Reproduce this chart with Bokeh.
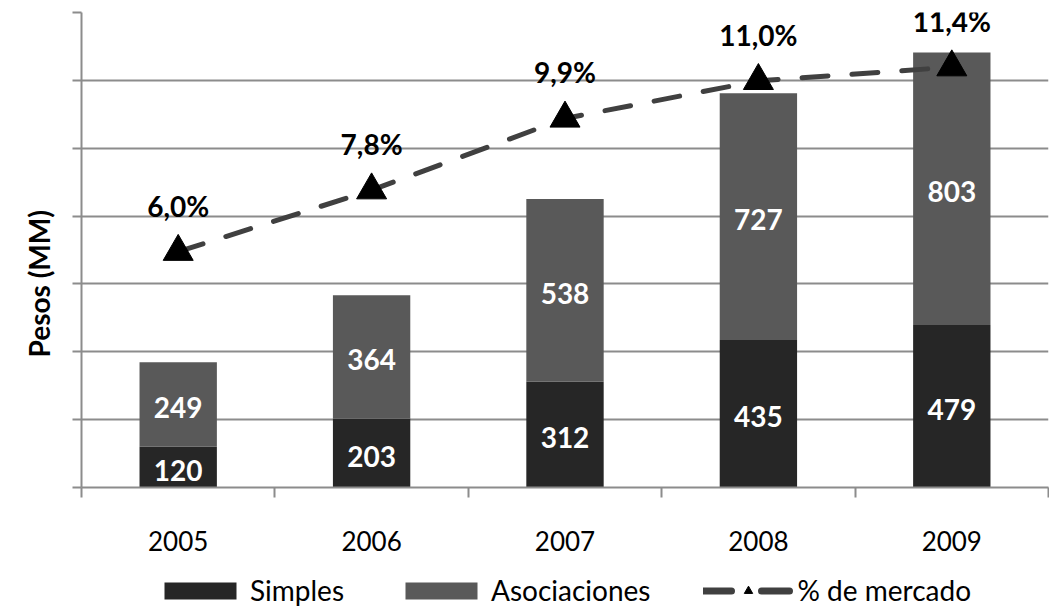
from bokeh.plotting import figure
from bokeh.models import (ColumnDataSource, Range1d, FixedTicker, Legend, LegendItem,
                          CustomJSTickFormatter, Title)
from bokeh.layouts import column
from bokeh.core.properties import value
from bokeh.embed import file_html
from bokeh.resources import INLINE

years = ["2005", "2006", "2007", "2008", "2009"]
simples = [120, 203, 312, 435, 479]
asociaciones = [249, 364, 538, 727, 803]
pct_mercado = [6.0, 7.8, 9.9, 11.0, 11.4]
pct_labels = ["6,0%", "7,8%", "9,9%", "11,0%", "11,4%"]
series_names = ["Simples", "Asociaciones", "% de mercado"]
y_title = "Pesos (MM)"

FONT = "Lato"
C_SIMPLES = "#262626"
C_ASOC = "#595959"
C_LINE = "#404040"
GRID = "#8c8c8c"
x = list(range(len(years)))

src = ColumnDataSource(dict(
    x=x, simples=simples, asociaciones=asociaciones,
    s_mid=[s / 2 for s in simples],
    a_mid=[s + a / 2 for s, a in zip(simples, asociaciones)],
    s_txt=[str(s) for s in simples], a_txt=[str(a) for a in asociaciones],
    pct=pct_mercado, pct_txt=pct_labels,
))

p = figure(width=1049, height=567, output_backend="svg", toolbar_location=None,
           x_range=Range1d(-0.5, 4.5), y_range=Range1d(0, 1400),
           min_border_left=81, min_border_right=1, min_border_top=12, min_border_bottom=80)
p.extra_y_ranges = {"pct": Range1d(-0.9, 13.0)}
p.outline_line_color = None

bars = p.vbar_stack(["simples", "asociaciones"], x="x", width=0.4, source=src,
                    color=[C_SIMPLES, C_ASOC], line_color=None)

p.text(x="x", y="s_mid", text="s_txt", source=src, text_color="white",
       text_font=value(FONT), text_font_style="bold", text_font_size="28px",
       text_align="center", text_baseline="middle", y_offset=3)
p.text(x="x", y="a_mid", text="a_txt", source=src, text_color="white",
       text_font=value(FONT), text_font_style="bold", text_font_size="28px",
       text_align="center", text_baseline="middle", y_offset=3)

p.line(x="x", y="pct", source=src, y_range_name="pct", line_color=C_LINE,
       line_width=5, line_dash="26 24", line_cap="round")
p.scatter(x="x", y="pct", source=src, y_range_name="pct", marker="triangle",
          size=30, fill_color="black", line_color="black")
p.text(x="x", y="pct", text="pct_txt", source=src, y_range_name="pct", text_color="black",
       text_font=value(FONT), text_font_style="bold", text_font_size="28px",
       text_align="center", text_baseline="middle", y_offset=-46)

xa = p.xaxis[0]
xa.ticker = FixedTicker(ticks=x, minor_ticks=[i - 0.5 for i in range(len(years) + 1)])
xa.major_label_overrides = {i: y for i, y in enumerate(years)}
xa.major_tick_out = 0
xa.major_tick_in = 0
xa.minor_tick_out = 10
xa.minor_tick_in = 0
xa.minor_tick_line_color = GRID
xa.minor_tick_line_width = 2
xa.axis_line_color = GRID
xa.axis_line_width = 2
xa.major_label_text_font = FONT
xa.major_label_text_font_size = "26px"
xa.major_label_text_color = "black"
xa.major_label_standoff = 33

ya = p.yaxis[0]
ya.ticker = FixedTicker(ticks=list(range(0, 1401, 200)))
ya.formatter = CustomJSTickFormatter(code="return ''")
ya.major_tick_out = 9
ya.major_tick_in = 0
ya.minor_tick_line_color = None
ya.major_tick_line_color = GRID
ya.major_tick_line_width = 2
ya.axis_line_color = GRID
ya.axis_line_width = 2
ya.major_label_standoff = 0

t = Title(text=y_title, text_font=FONT, text_font_style="bold", text_font_size="28px",
          text_color="black", align="left", offset=130, standoff=34)
p.add_layout(t, "left")

p.xgrid.grid_line_color = None
p.ygrid.ticker = FixedTicker(ticks=list(range(0, 1401, 200)))
p.ygrid.grid_line_color = GRID
p.ygrid.grid_line_width = 2

# legend strip
lg = figure(width=1049, height=45, output_backend="svg", toolbar_location=None,
            x_range=Range1d(0, 1), y_range=Range1d(0, 1),
            x_axis_location=None, y_axis_location=None,
            min_border_left=0, min_border_right=0, min_border_top=0, min_border_bottom=0)
lg.grid.visible = False
lg.outline_line_color = None
far = ColumnDataSource(dict(x=[50, 51], y=[50, 51]))
r1 = lg.rect(x="x", y="y", width=1, height=1, source=far, fill_color=C_SIMPLES, line_color=None)
r2 = lg.rect(x="x", y="y", width=1, height=1, source=far, fill_color=C_ASOC, line_color=None)
r3 = lg.line(x="x", y="y", source=far, line_color=C_LINE, line_width=7,
             line_dash="28 30", line_cap="round")
r4 = lg.scatter(x="x", y="y", source=far, marker="triangle", size=18,
                fill_color="black", line_color="black")
legend = Legend(items=[
    LegendItem(label=series_names[0], renderers=[r1]),
    LegendItem(label=series_names[1], renderers=[r2]),
    LegendItem(label=series_names[2], renderers=[r3, r4]),
], orientation="horizontal", location=(74, 5),
    label_text_font=FONT, label_text_font_size="28px", label_text_color="black",
    glyph_width=90, glyph_height=21, label_standoff=5, spacing=52,
    border_line_color=None, background_fill_alpha=0, padding=4, margin=0)
lg.add_layout(legend, "center")

layout = column(p, lg, spacing=0)
open("out.html", "w").write(file_html(layout, INLINE))
